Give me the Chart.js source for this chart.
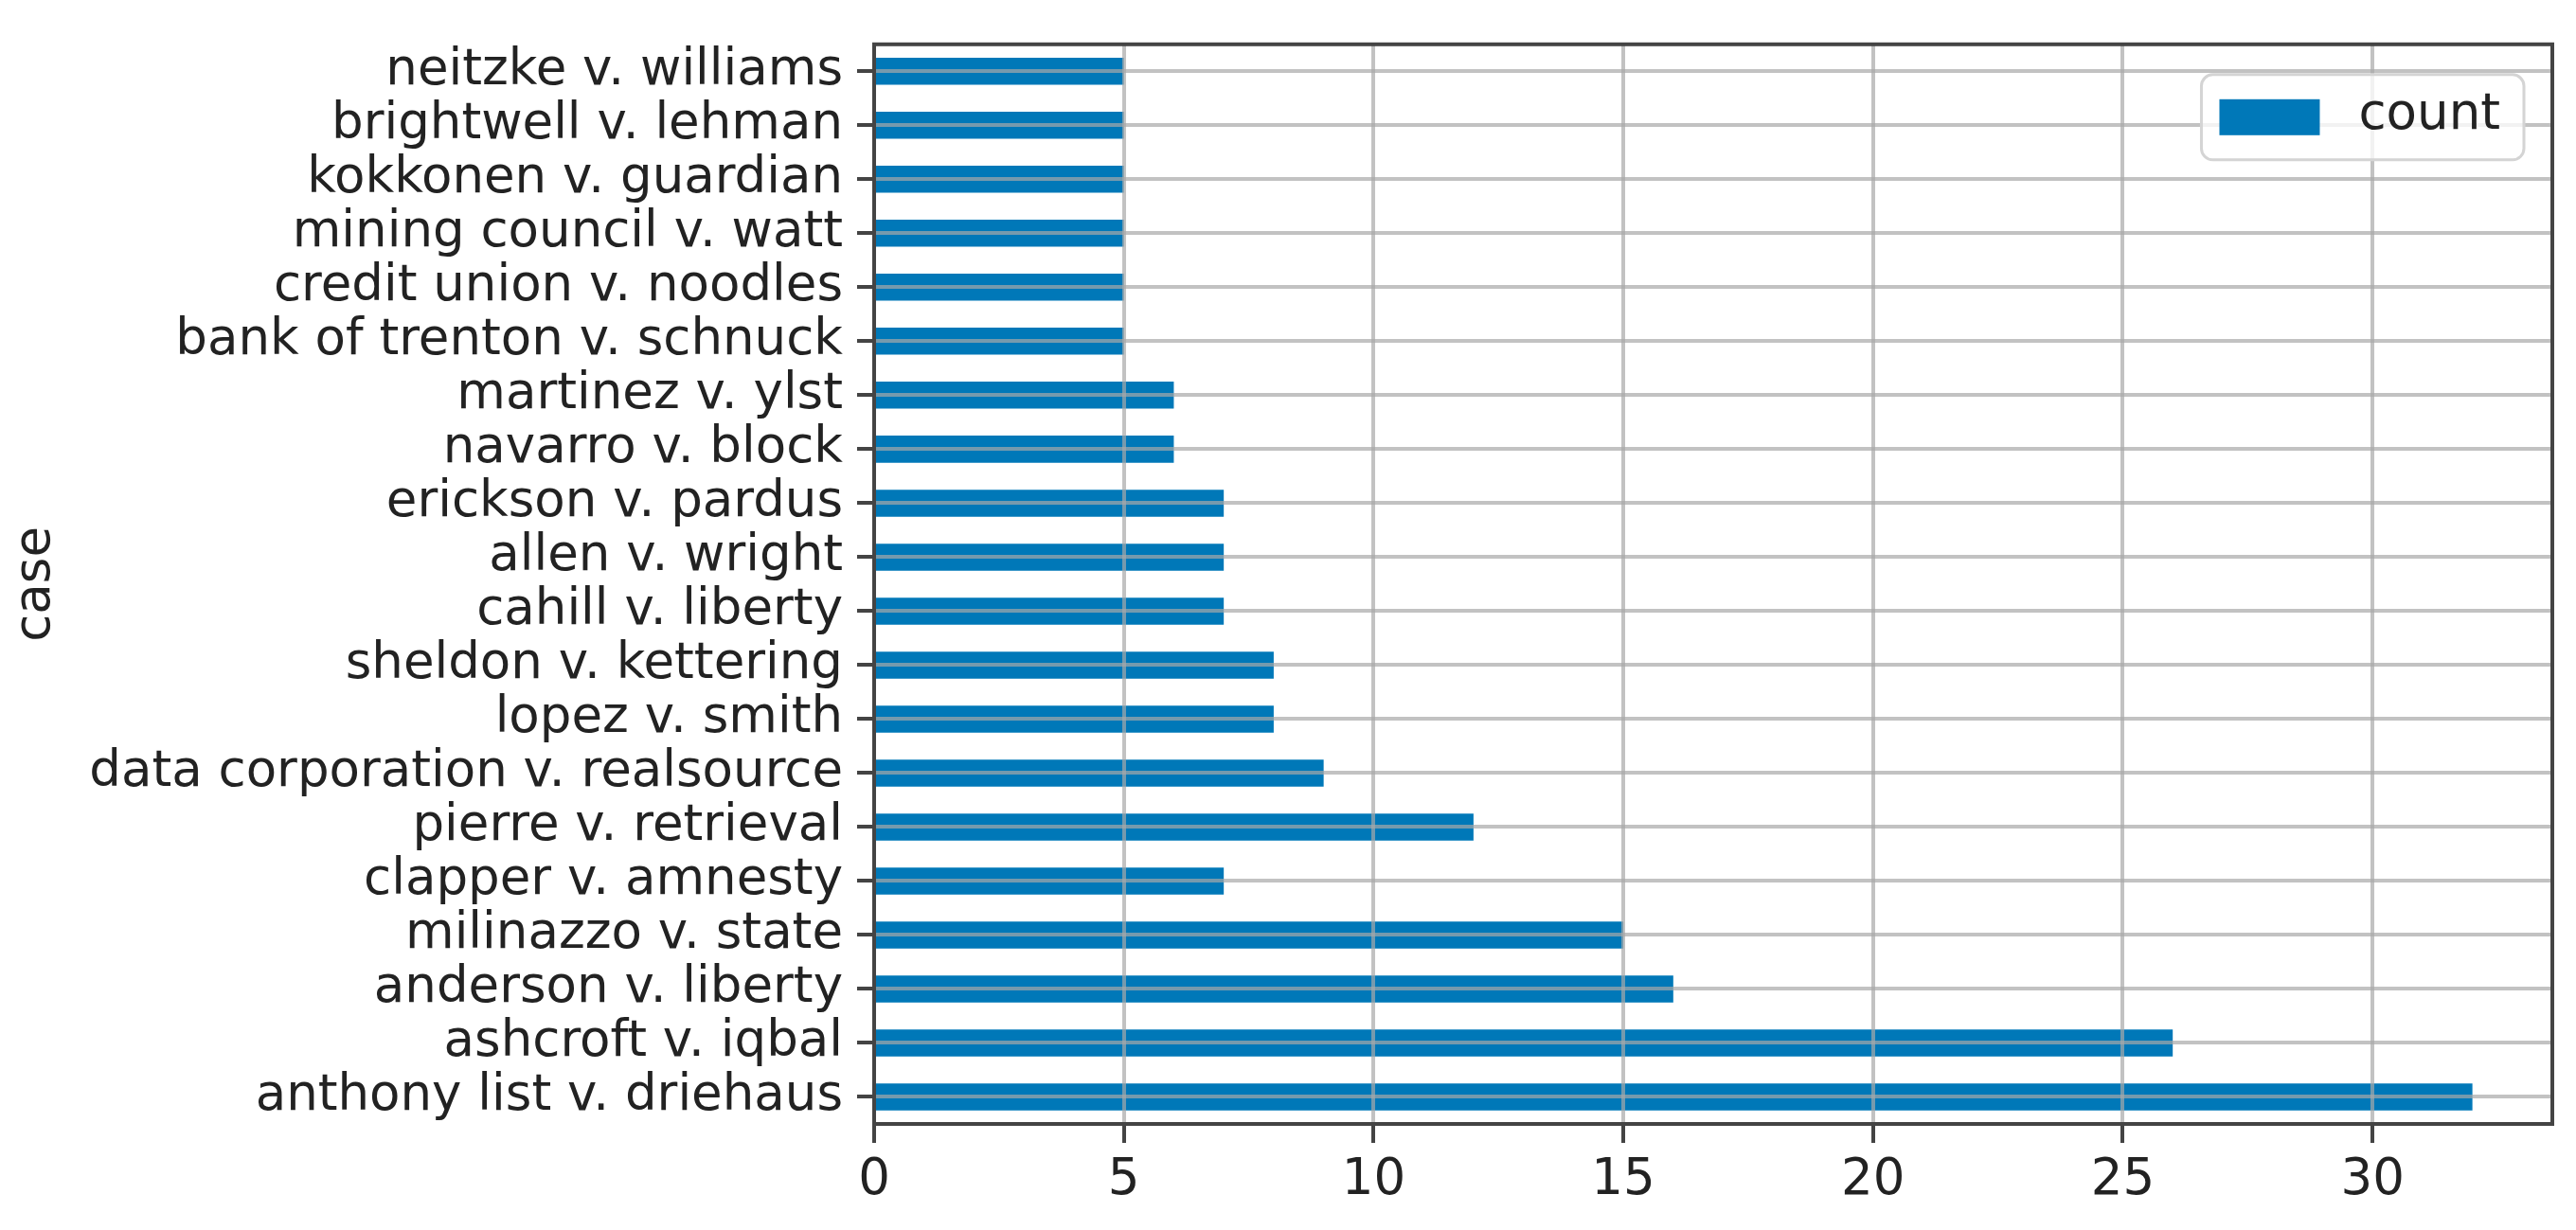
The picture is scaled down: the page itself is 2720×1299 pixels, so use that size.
<!DOCTYPE html>
<html>
<head>
<meta charset="utf-8">
<script src="https://cdn.jsdelivr.net/npm/chart.js@4.4.1/dist/chart.umd.min.js"></script>
<style>
  html, body { margin: 0; padding: 0; background: #fff; }
  #wrap { width: 2720px; height: 1299px; position: relative; }
</style>
</head>
<body>
<div id="wrap"><canvas id="chart"></canvas></div>
<script>
// case names, top to bottom as in the plot
const CASES = [
  "neitzke v. williams",
  "brightwell v. lehman",
  "kokkonen v. guardian",
  "mining council v. watt",
  "credit union v. noodles",
  "bank of trenton v. schnuck",
  "martinez v. ylst",
  "navarro v. block",
  "erickson v. pardus",
  "allen v. wright",
  "cahill v. liberty",
  "sheldon v. kettering",
  "lopez v. smith",
  "data corporation v. realsource",
  "pierre v. retrieval",
  "clapper v. amnesty",
  "milinazzo v. state",
  "anderson v. liberty",
  "ashcroft v. iqbal",
  "anthony list v. driehaus",
];
const COUNTS = [5, 5, 5, 5, 5, 5, 6, 6, 7, 7, 7, 8, 8, 9, 12, 7, 15, 16, 26, 32];
const SERIES_LABEL = "count";
const AXIS_TITLE = "case";
const X_MIN = 0;
const X_MAX = 33.6;
const X_STEP = 5;

const BAR_COLOR = "#0078b8";
const GRID_COLOR = "rgba(168,168,168,0.7)";
const AXIS_COLOR = "#444";
const TEXT_COLOR = "#222";
const FONT = "'DejaVu Sans', sans-serif";

Chart.defaults.font.family = FONT;
Chart.defaults.font.size = 53;
Chart.defaults.color = TEXT_COLOR;

// box around the plot area (matplotlib spines)
const frameBox = {
  id: "frameBox",
  afterDraw(chart) {
    const { ctx, chartArea: a } = chart;
    ctx.save();
    ctx.strokeStyle = AXIS_COLOR;
    ctx.lineWidth = 4;
    ctx.strokeRect(a.left, a.top, a.right - a.left, a.bottom - a.top);
    ctx.restore();
  },
};

// legend in the upper right corner, with a rounded frame
const cornerLegend = {
  id: "cornerLegend",
  afterDraw(chart) {
    const { ctx, chartArea: a } = chart;
    const ds = chart.data.datasets[0];
    ctx.save();
    ctx.font = "53px " + FONT;
    const tw = ctx.measureText(ds.label).width;
    const padL = 19, patchW = 106, patchH = 38, gap = 41, padR = 25, h = 90;
    const w = padL + patchW + gap + tw + padR;
    const x = a.right - 30 - w;
    const y = a.top + 32;
    ctx.beginPath();
    ctx.roundRect(x, y, w, h, 12);
    ctx.fillStyle = "rgba(255,255,255,0.8)";
    ctx.fill();
    ctx.strokeStyle = "#d4d4d4";
    ctx.lineWidth = 3;
    ctx.stroke();
    ctx.fillStyle = ds.backgroundColor;
    ctx.fillRect(x + padL, y + (h - patchH) / 2, patchW, patchH);
    ctx.fillStyle = TEXT_COLOR;
    ctx.textBaseline = "middle";
    ctx.textAlign = "left";
    ctx.fillText(ds.label, x + padL + patchW + gap, y + h / 2 - 2);
    ctx.restore();
  },
};

new Chart(document.getElementById("chart"), {
  type: "bar",
  data: {
    labels: CASES,
    datasets: [{
      label: SERIES_LABEL,
      data: COUNTS,
      backgroundColor: BAR_COLOR,
      borderWidth: 0,
      categoryPercentage: 1,
      barPercentage: 0.5,
    }],
  },
  options: {
    indexAxis: "y",
    responsive: true,
    maintainAspectRatio: false,
    devicePixelRatio: 1,
    animation: false,
    layout: { padding: { top: 33, right: 25, left: 0, bottom: 0 } },
    plugins: {
      legend: { display: false },
      tooltip: { enabled: false },
    },
    scales: {
      x: {
        type: "linear",
        min: X_MIN,
        max: X_MAX,
        afterFit: (s) => { s.height = 112; },
        ticks: { stepSize: X_STEP, includeBounds: false, padding: 8, color: TEXT_COLOR },
        grid: { color: GRID_COLOR, lineWidth: 4, z: 1, tickLength: 20, tickColor: AXIS_COLOR, tickWidth: 4 },
        border: { display: false },
      },
      y: {
        type: "category",
        afterFit: (s) => { s.width = 923; },
        ticks: { padding: 15, color: TEXT_COLOR, autoSkip: false },
        grid: { offset: false, color: GRID_COLOR, lineWidth: 4, z: 1, tickLength: 18, tickColor: AXIS_COLOR, tickWidth: 4 },
        border: { display: false },
        title: { display: true, text: AXIS_TITLE, color: TEXT_COLOR, padding: { top: 6, bottom: 0 } },
      },
    },
  },
  plugins: [frameBox, cornerLegend],
});
</script>
</body>
</html>
